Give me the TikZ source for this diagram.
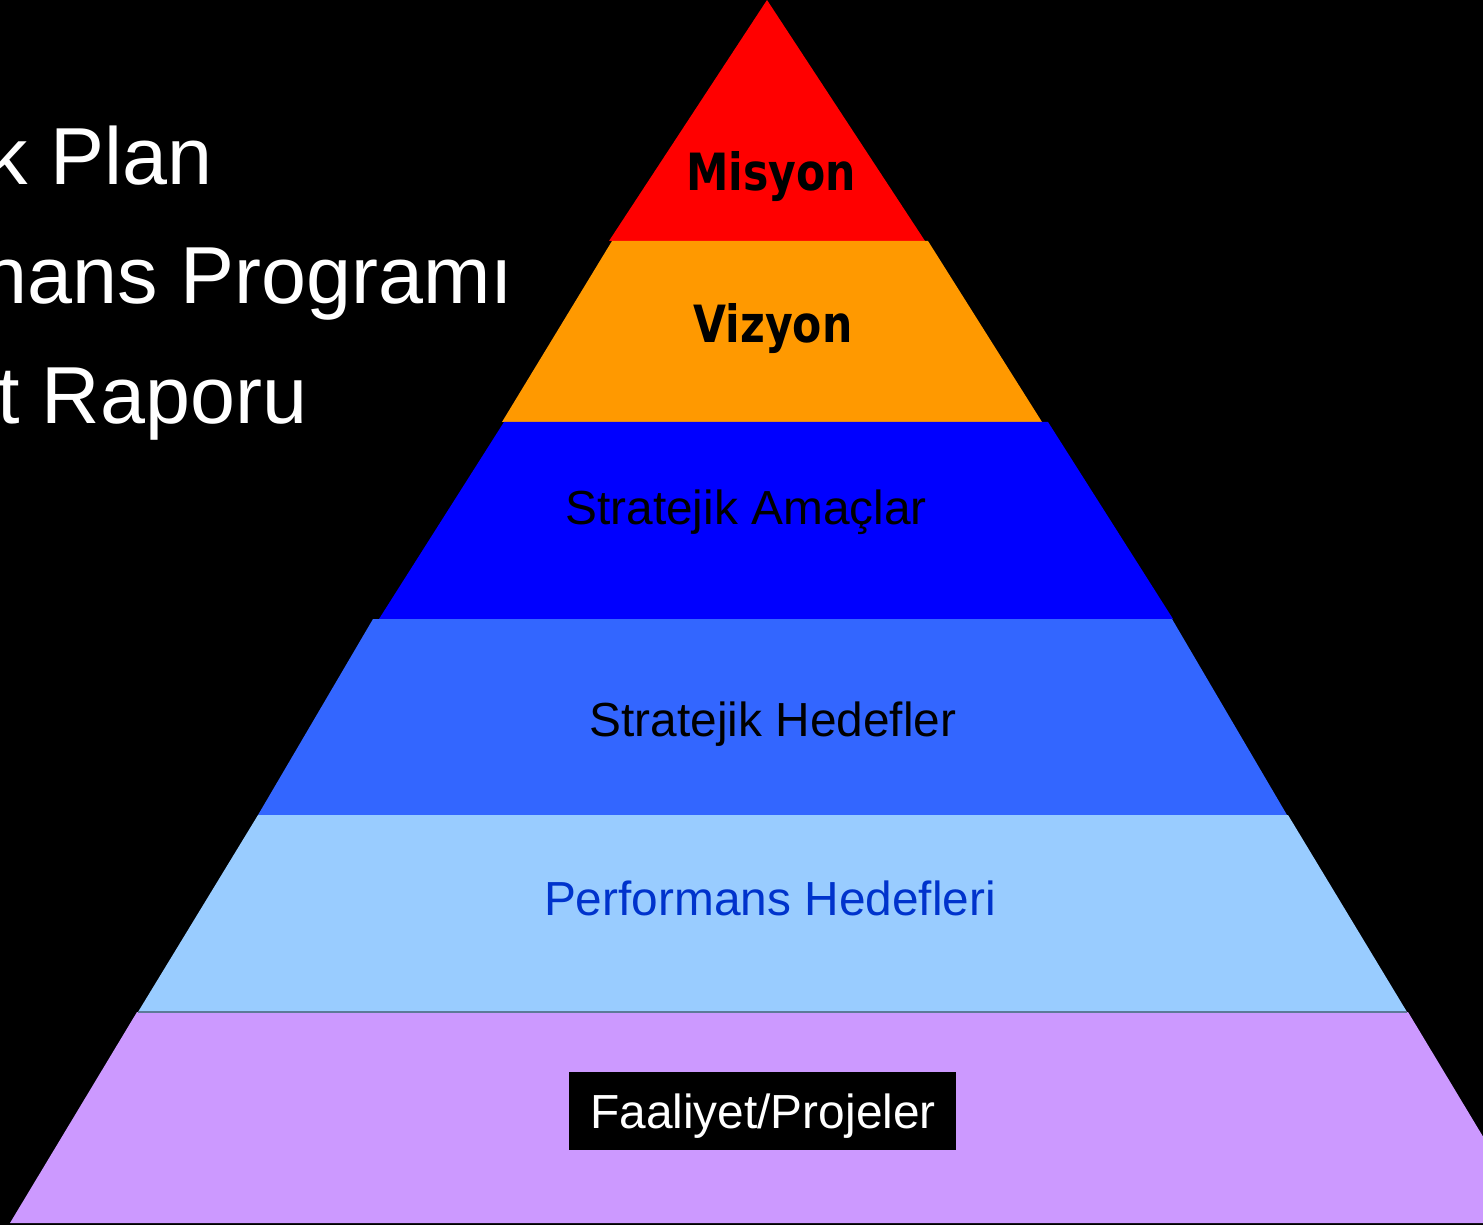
\documentclass[tikz,border=0pt]{standalone}
\usepackage{fontspec}
\setmainfont{Liberation Sans}
\newfontfamily\bandfont{DejaVu Sans}[FakeStretch=0.83]
\definecolor{misyonred}{HTML}{FF0000}
\definecolor{vizyonorange}{HTML}{FF9900}
\definecolor{amacblue}{HTML}{0000FF}
\definecolor{hedefblue}{HTML}{3366FF}
\definecolor{perfblue}{HTML}{99CCFF}
\definecolor{perftext}{HTML}{0033CC}
\definecolor{faalpurple}{HTML}{CC99FF}
\tikzset{
	bandtitle/.style={anchor=base, inner sep=0pt, font=\bandfont\bfseries\fontsize{14.6pt}{17pt}\selectfont},
	bandlabel/.style={anchor=base, inner sep=0pt, font=\fontsize{13.6pt}{16pt}\selectfont},
	sidetext/.style={anchor=base east, inner sep=0pt, text=white, font=\fontsize{23pt}{26pt}\selectfont}
}
\begin{document}
\begin{tikzpicture}[x=0.01cm, y=-0.01cm]
	\useasboundingbox (0,0) rectangle (1483,1225);
	\fill[black] (0,0) rectangle (1483,1225);
	\clip (0,0) rectangle (1483,1225);
	\fill[misyonred] (767,0) -- (925,241) -- (609,241) -- cycle;
	\fill[vizyonorange] (612,241) -- (928,241) -- (1042,422) -- (502,422) -- cycle;
	\fill[amacblue] (504,422) -- (1048,422) -- (1173,619) -- (379,619) -- cycle;
	\fill[hedefblue] (373,619) -- (1172,619) -- (1287,815) -- (258,815) -- cycle;
	\fill[perfblue] (258,815) -- (1288,815) -- (1407,1012) -- (138,1012) -- cycle;
	\fill[faalpurple] (137,1012) -- (1408,1012) -- (1535,1223) -- (10,1223) -- cycle;
	\draw[black!40!perfblue, line width=0.5pt] (138,1012) -- (1407,1012);
	\node[bandtitle] (misyon) at (771,191) {Misyon};
	\node[bandtitle] (vizyon) at (773,343) {Vizyon};
	\node[bandlabel] (amaclar) at (746,524) {Stratejik Amaçlar};
	\node[bandlabel] (hedefler) at (773,736) {Stratejik Hedefler};
	\node[bandlabel, text=perftext] (perfhedef) at (770,915) {Performans Hedefleri};
	\fill[black] (569,1072) rectangle (956,1150);
	\node[bandlabel, text=white] (faaliyet) at (763,1128) {Faaliyet/Projeler};
	\node[sidetext] (plan) at (213,185) {k Plan};
	\node[sidetext] (program) at (514,304) {nans Programı};
	\node[sidetext] (rapor) at (308,423) {t Raporu};
\end{tikzpicture}
\end{document}
